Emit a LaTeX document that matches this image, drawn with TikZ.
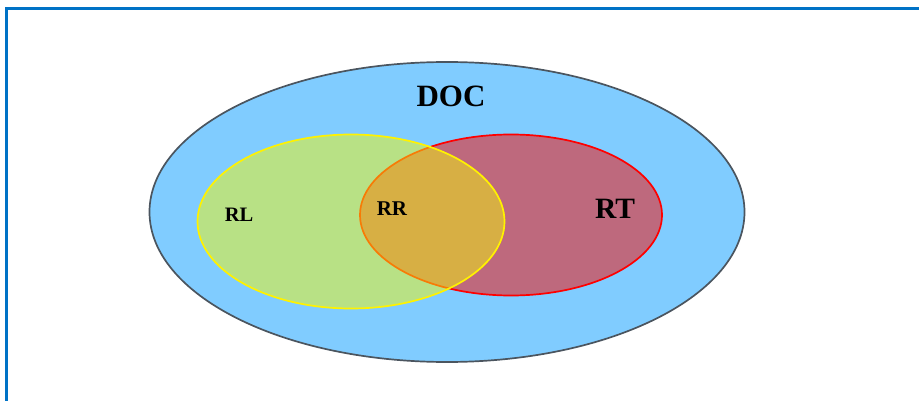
\documentclass[tikz,border=0pt]{standalone}
\usepackage{fontspec}
\setmainfont{Liberation Serif}
\usetikzlibrary{shapes.geometric}

\definecolor{framecol}{RGB}{0,114,198}
\definecolor{docfill}{RGB}{128,204,255}
\definecolor{docline}{RGB}{75,85,95}
\definecolor{rtfill}{RGB}{190,105,125}
\definecolor{rlfill}{RGB}{240,246,13}

\tikzset{
  setshape/.style={ellipse, inner sep=0pt, line width=1.7pt},
  setlabel/.style={font=\bfseries, inner sep=0pt, text=black},
}

\begin{document}
\begin{tikzpicture}[x=1pt, y=-1pt]
  \useasboundingbox (0,0) rectangle (919,401);

  % outer frame, running off the right and bottom edges
  \draw[framecol, line width=3.2pt] (6.5,8.7) rectangle (940,420);

  % universe set
  \node[setshape, draw=docline, fill=docfill,
        minimum width=595pt, minimum height=300pt] (doc) at (447,212) {};

  % retrieved set
  \node[setshape, draw=red, fill=rtfill,
        minimum width=302pt, minimum height=161pt] (rt) at (511,215) {};

  % relevant set, translucent over the retrieved one
  \node[setshape, draw=yellow, fill=rlfill, fill opacity=0.5,
        minimum width=307pt, minimum height=174pt] (rl) at (351,221.5) {};

  % labels
  \node[setlabel, font=\bfseries\fontsize{31}{31}\selectfont] (doclbl) at (451,96) {DOC};
  \node[setlabel, font=\bfseries\fontsize{29.5}{29.5}\selectfont] (rtlbl) at (615,209) {RT};
  \node[setlabel, font=\bfseries\fontsize{20.5}{20.5}\selectfont] (rllbl) at (239,215) {RL};
  \node[setlabel, font=\bfseries\fontsize{21}{21}\selectfont] (rrlbl) at (392,209) {RR};
\end{tikzpicture}
\end{document}
